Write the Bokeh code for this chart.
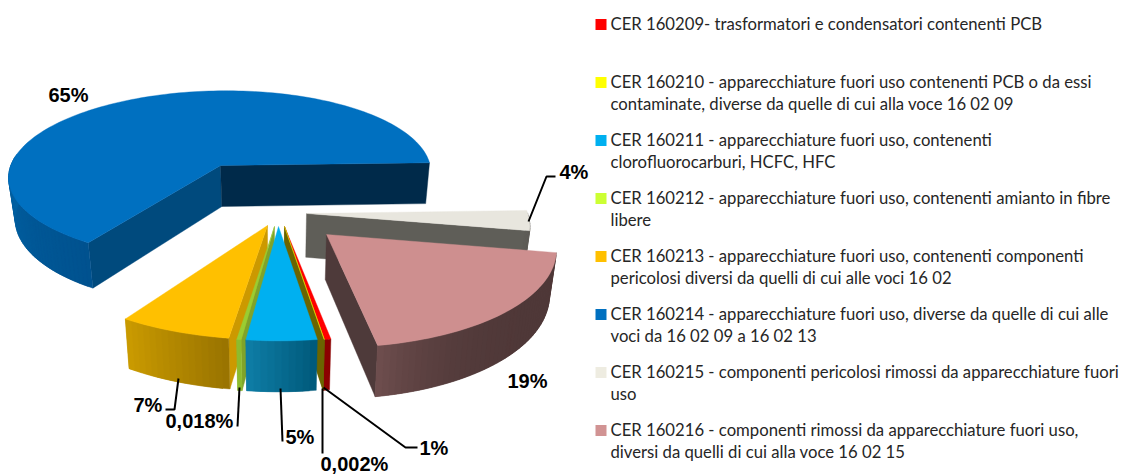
import math
from bokeh.plotting import figure
from bokeh.models import Range1d
from bokeh.core.properties import value
from bokeh.embed import file_html
from bokeh.resources import INLINE

# ---- data (clockwise, starting at the red slice)
codes = ["160209", "160210", "160211", "160212", "160213", "160214", "160215", "160216"]
slice_shares = [0.4, 0.01, 4.3, 0.28, 6.9, 65.3, 3.4, 19.4]
slice_labels = ["1%", "0,002%", "5%", "0,018%", "7%", "65%", "4%", "19%"]
legend_lines = [
    ["CER 160209- trasformatori e condensatori contenenti PCB"],
    ["CER 160210 - apparecchiature fuori uso contenenti PCB o da essi",
     "contaminate, diverse da quelle di cui alla voce 16 02 09"],
    ["CER 160211 - apparecchiature fuori uso, contenenti",
     "clorofluorocarburi, HCFC, HFC"],
    ["CER 160212 - apparecchiature fuori uso, contenenti amianto in fibre",
     "libere"],
    ["CER 160213 - apparecchiature fuori uso, contenenti componenti",
     "pericolosi diversi da quelli di cui alle voci 16 02"],
    ["CER 160214 - apparecchiature fuori uso, diverse da quelle di cui alle",
     "voci da 16 02 09 a 16 02 13"],
    ["CER 160215 - componenti pericolosi rimossi da apparecchiature fuori",
     "uso"],
    ["CER 160216 - componenti rimossi da apparecchiature fuori uso,",
     "diversi da quelli di cui alla voce 16 02 15"],
]
legend_colors = ["#FF0000", "#FFFF00", "#00B0F0", "#CCFF33", "#FFC000", "#0070C0", "#EEECE1", "#D19393"]

# ---- styling per slice
top_colors = ["#FF0000", "#FFFF00", "#00B0F0", "#9ACD32", "#FFC000", "#0070C0", "#E8E6DE", "#CE8F8F"]
start_cut = ["#6B6400", "#6B6400", "#005B7E", "#7FA32A", "#CC9900", "#004A7D", "#5F5E58", "#4E3A3A"]
end_cut = ["#6B6400", "#6B6400", "#005B7E", "#7FA32A", "#A88000", "#002A4A", "#5F5E58", "#4E3A3A"]
arc_grad = [("#8B0000", "#8B0000"), ("#6B6400", "#6B6400"), ("#005A7C", "#0E7CA4"),
            ("#8DBB2E", "#8DBB2E"), ("#9A7400", "#C99A00"), ("#00528F", "#0062A4"),
            ("#5F5E58", "#5F5E58"), ("#4F3838", "#6D4D4D")]
arc_power = [1, 1, 1, 1, 1, 1, 1, 5]
# apex of each exploded slice on the page, and its radius factor
apex = [(284, 226), (284, 226), (278, 226), (274, 226), (267, 225), (220, 165), (306, 213), (326, 234)]
radii = [1.0, 1.0, 1.0, 1.0, 1.0, 0.98, 0.97, 0.97]
paint_order = [5, 6, 7, 0, 1, 4, 3, 2]
START_DEG = 80.2
CX, CY, RX, RY, PERSP = 275.0, 165.0, 214.0, 85.0, 0.117
DEPTH, SHRINK = 41.0, 0.975


def project(wx, wy):
    den = 1 - PERSP * wy
    return CX + RX * wx / den, CY + RY * wy / den, DEPTH / den


def unproject(sx, sy):
    d = sy - CY
    wy = d / (RY + PERSP * d)
    return (sx - CX) * (1 - PERSP * wy) / RX, wy


def lower(pt):
    x, y, d = pt
    return CX + (x - CX) * SHRINK, y + d


def hexmix(a, b, t):
    ca = [int(a[i:i + 2], 16) for i in (1, 3, 5)]
    cb = [int(b[i:i + 2], 16) for i in (1, 3, 5)]
    return "#%02x%02x%02x" % tuple(round(u + (v - u) * t) for u, v in zip(ca, cb))


total = sum(slice_shares)
angles = []
acc = START_DEG
for s in slice_shares:
    angles.append((acc, acc + s / total * 360))
    acc += s / total * 360

xs, ys, cols = [], [], []


def add(poly, c):
    xs.append([q[0] for q in poly])
    ys.append([q[1] for q in poly])
    cols.append(c)


def face_visible(ap, edge, body):
    # the cut face shows when moving down the screen leaves the slice's top
    ex, ey = edge[0] - ap[0], edge[1] - ap[1]
    bx, by = body[0] - ap[0], body[1] - ap[1]
    return ex * (ex * by - ey * bx) < 0


def arc_shows(deg):
    c, s = math.cos(math.radians(deg)), math.sin(math.radians(deg))
    return s > -0.12 and not (c > 0 and s < 0)


for i in paint_order:
    a0, a1 = angles[i]
    ax, ay = unproject(*apex[i])
    r = radii[i]
    n = max(2, int((a1 - a0) / 1.5))
    rim = []
    for j in range(n + 1):
        t = math.radians(a0 + (a1 - a0) * j / n)
        rim.append(project(ax + r * math.cos(t), ay + r * math.sin(t)))
    ap = project(ax, ay)
    if face_visible(ap, rim[0], rim[1]):
        add([ap[:2], rim[0][:2], lower(rim[0]), lower(ap)], start_cut[i])
    if face_visible(ap, rim[-1], rim[-2]):
        add([ap[:2], rim[-1][:2], lower(rim[-1]), lower(ap)], end_cut[i])
    seg = [j for j in range(n) if arc_shows(a0 + (a1 - a0) * (j + 0.5) / n)]
    for idx, j in enumerate(seg):
        t = (idx / max(1, len(seg) - 1)) ** arc_power[i]
        k = min(j + 2, n)
        add([rim[j][:2], rim[k][:2], lower(rim[k]), lower(rim[j])],
            hexmix(arc_grad[i][0], arc_grad[i][1], t))
    add([ap[:2]] + [q[:2] for q in rim], top_colors[i])

p = figure(width=1124, height=474, x_range=Range1d(0, 1124), y_range=Range1d(474, 0),
           x_axis_location=None, y_axis_location=None, toolbar_location=None,
           output_backend="svg", min_border=0, outline_line_color=None, tools="")
p.grid.visible = False
p.patches(xs, ys, fill_color=cols, line_color=cols, line_width=0.4)

# leader lines
leaders = [([178, 174, 165], [378, 409, 409]), ([239, 237], [387, 426]), ([280, 282], [388, 441]),
           ([322, 322], [388, 453]), ([323, 405, 417], [387, 447, 447]), ([528, 546, 555], [221, 176, 176])]
for lx, ly in leaders:
    p.line(lx, ly, line_color="black", line_width=2)

# data labels
label_pos = {"65%": (48, 94), "4%": (559, 171), "19%": (507, 380), "1%": (419, 447),
             "0,002%": (320, 463), "5%": (285, 436), "0,018%": (165, 420), "7%": (133, 404)}
for lab in slice_labels:
    lx, ly = label_pos[lab]
    p.text([lx], [ly], text=[lab], text_font=value("Liberation Sans"), text_font_style="bold",
           text_font_size=value("20px"), text_color="#000000", text_baseline="middle", text_align="left")

# legend
legend_y = [23.5, 81.5, 139.5, 197.5, 255.5, 313.5, 371.5, 429.5]
for col, lines, y0 in zip(legend_colors, legend_lines, legend_y):
    p.rect([600.5], [y0 + 0.5], width=11, height=11, fill_color=col, line_color=None)
    for k, line in enumerate(lines):
        p.text([610], [y0 + k * 21.5], text=[line], text_font=value("Lato"), text_font_size=value("16.7px"),
               text_color="#262626", text_baseline="middle", text_align="left")

open("out.html", "w").write(file_html(p, INLINE))
